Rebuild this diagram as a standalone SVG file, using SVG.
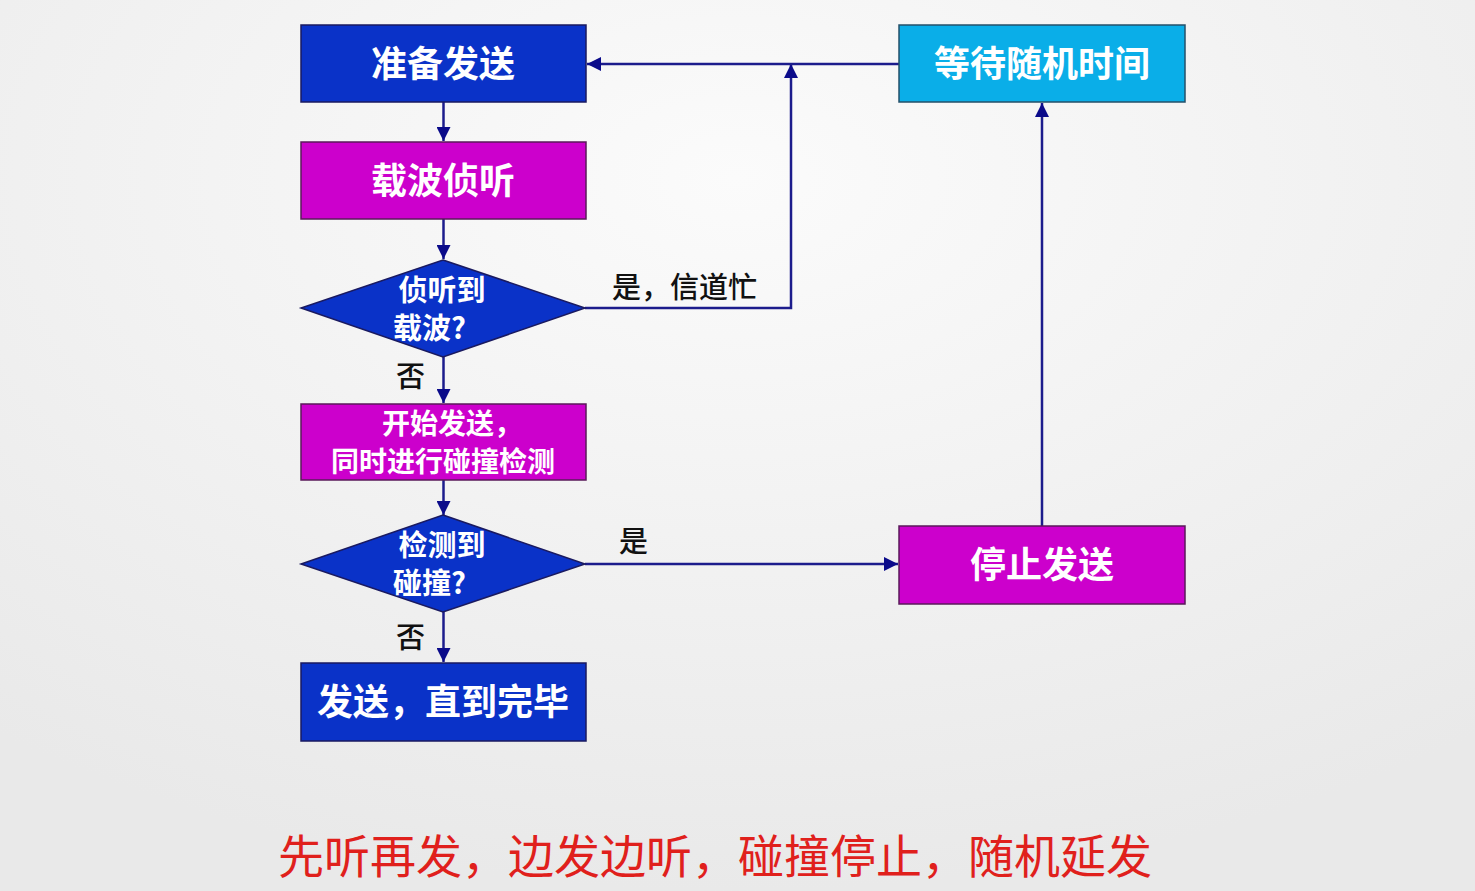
<svg xmlns="http://www.w3.org/2000/svg" width="1475" height="891" viewBox="0 0 1475 891">
<defs>
<radialGradient id="bg" cx="0.5" cy="0.2" r="0.8">
<stop offset="0" stop-color="#fbfbfb"/>
<stop offset="1" stop-color="#e9e9e9"/>
</radialGradient>
<marker id="ah2" viewBox="0 0 10 10" refX="10" refY="5" markerWidth="14" markerHeight="14" markerUnits="userSpaceOnUse" orient="auto">
<path d="M0,0 L10,5 L0,10 z" fill="#0b0b8a"/>
</marker>
</defs>
<style>
.blue{fill:#0a32c8;stroke:#1a1a60;stroke-width:1.5}
.mag{fill:#cc00cc;stroke:#5a1a5a;stroke-width:1.5}
.cyan{fill:#0aaee8;stroke:#24506a;stroke-width:1.5}
.t{font-family:"Noto Sans CJK SC","Noto Sans",sans-serif;font-weight:700;fill:#ffffff;text-anchor:middle}
.big{font-size:36px}
.mid{font-size:29px}
.sm{font-size:28px}
.lbl{font-family:"Noto Sans CJK SC","Noto Sans",sans-serif;font-weight:500;font-size:29px;fill:#111}
.conn{fill:none;stroke:#1c1c8c;stroke-width:2.5}
</style>
<rect width="1475" height="891" fill="url(#bg)"/>
<g id="connectors">
<line class="conn" x1="443.5" y1="102" x2="443.5" y2="141" marker-end="url(#ah2)"/>
<line class="conn" x1="443.5" y1="219" x2="443.5" y2="259" marker-end="url(#ah2)"/>
<line class="conn" x1="443.5" y1="357" x2="443.5" y2="403" marker-end="url(#ah2)"/>
<line class="conn" x1="443.5" y1="480" x2="443.5" y2="515" marker-end="url(#ah2)"/>
<line class="conn" x1="443.5" y1="612" x2="443.5" y2="662" marker-end="url(#ah2)"/>
<polyline class="conn" points="585,308 791,308 791,64" marker-end="url(#ah2)"/>
<line class="conn" x1="899" y1="64" x2="587" y2="64" marker-end="url(#ah2)"/>
<line class="conn" x1="585" y1="564" x2="898" y2="564" marker-end="url(#ah2)"/>
<line class="conn" x1="1042" y1="526" x2="1042" y2="103" marker-end="url(#ah2)"/>
<text class="lbl" x="612" y="298">是，信道忙</text>
<text class="lbl" x="619" y="552">是</text>
<text class="lbl" x="396" y="387">否</text>
<text class="lbl" x="396" y="648">否</text>
</g>
<g id="n-prepare">
<rect class="blue" x="301" y="25" width="285" height="77"/>
<text class="t big" x="443" y="77">准备发送</text>
</g>
<g id="n-sense">
<rect class="mag" x="301" y="142" width="285" height="77"/>
<text class="t big" x="443" y="194">载波侦听</text>
</g>
<g id="n-dec1">
<polygon class="blue" points="443,260 585,308 443,357 301,308"/>
<text class="t mid"><tspan x="442" y="301">侦听到</tspan><tspan x="393" y="339" style="text-anchor:start">载波?</tspan></text>
</g>
<g id="n-start">
<rect class="mag" x="301" y="404" width="285" height="76"/>
<text class="t sm"><tspan x="452" y="434">开始发送，</tspan><tspan x="443" y="472">同时进行碰撞检测</tspan></text>
</g>
<g id="n-dec2">
<polygon class="blue" points="443,515 585,564 443,612 301,564"/>
<text class="t mid"><tspan x="442" y="556">检测到</tspan><tspan x="393" y="594" style="text-anchor:start">碰撞?</tspan></text>
</g>
<g id="n-send">
<rect class="blue" x="301" y="663" width="285" height="78"/>
<text class="t big" x="443" y="715">发送，直到完毕</text>
</g>
<g id="n-wait">
<rect class="cyan" x="899" y="25" width="286" height="77"/>
<text class="t big" x="1042" y="77">等待随机时间</text>
</g>
<g id="n-stop">
<rect class="mag" x="899" y="526" width="286" height="78"/>
<text class="t big" x="1042" y="578">停止发送</text>
</g>
<text x="715" y="873" style="font-family:'Noto Sans CJK SC','Noto Sans',sans-serif;font-size:46px;fill:#e0201c;text-anchor:middle">先听再发，边发边听，碰撞停止，随机延发</text>
</svg>
